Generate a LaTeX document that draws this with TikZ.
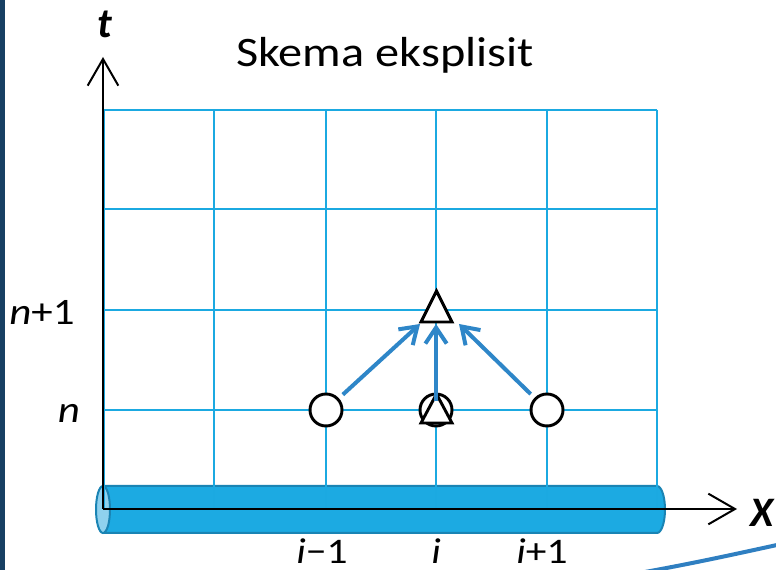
\documentclass[tikz,border=0pt]{standalone}
\usepackage{fontspec}
\setmainfont{Carlito}
\usetikzlibrary{arrows.meta}
\definecolor{gridc}{HTML}{1BA9E1}
\definecolor{arrc}{HTML}{2E86C8}
\definecolor{cylc}{HTML}{1CAAE2}
\definecolor{cyld}{HTML}{1A84B4}
\definecolor{cyll}{HTML}{8FD1EE}
\definecolor{barc}{HTML}{173F63}
\definecolor{swc}{HTML}{2F7FC1}
\newcommand{\wider}[1]{\scalebox{1.15}[1]{#1}}
\tikzset{
  gridline/.style={gridc, line width=1.5pt},
  axisline/.style={black, line width=1.5pt, -{Straight Barb[length=20pt,width=23pt,line width=1.5pt]}},
  flow/.style={arrc, line width=3pt, -{Straight Barb[length=12pt,width=16pt,line width=3pt]}},
  circ/.style={circle, draw=black, fill=white, line width=2.2pt, minimum size=24pt, inner sep=0pt},
  tri/.style={draw=black, fill=white, line width=2.2pt, line join=miter},
  lab/.style={anchor=base, inner sep=0pt, font=\fontsize{28}{32}\selectfont},
  blab/.style={anchor=base, inner sep=0pt, font=\fontsize{27}{31}\selectfont},
  axlab/.style={anchor=base, inner sep=0pt, font=\fontsize{31.5}{36}\selectfont\bfseries\itshape},
}
\begin{document}
\begin{tikzpicture}[x=0.75pt,y=-0.75pt]
\useasboundingbox (0,0) rectangle (776,570);
\fill[white] (0,0) rectangle (776,570);
% left bar
\fill[barc] (0,0) rectangle (5,570);
% cylinder
\filldraw[fill=cylc, draw=cyld, line width=1.5pt]
  (103,486) -- (657,486) arc[start angle=-90, end angle=90, x radius=8, y radius=23.5] -- (103,533) -- cycle;
\filldraw[fill=cyll, draw=cyld, line width=1.5pt] (103,509.5) ellipse[x radius=7, y radius=23.5];
% grid
\foreach \gx in {104,214,326,436,547,657} \draw[gridline] (\gx,110) -- (\gx,509);
\foreach \gy in {110,209,310,410} \draw[gridline] (104,\gy) -- (657,\gy);
% axes
\coordinate (O) at (103,509);
\coordinate (tend) at (103,57);
\coordinate (xend) at (737,509);
\draw[axisline] (O) -- (tend);
\draw[axisline] (O) -- (xend);
\node[axlab] (tlab) at (105,38) {t};
\node[axlab] (xlab) at (762,527) {X};
% title
\node[anchor=base, inner sep=0pt, font=\fontsize{31.5}{36}\selectfont] (title) at (385,67) {\wider{Skema eksplisit}};
% labels
\node[lab] (n1) at (42,325) {\wider{\textit{n}+1}};
\node[lab] (n0) at (69,423) {\wider{\textit{n}}};
\node[blab] (im) at (322,564) {\wider{\textit{i}−1}};
\node[blab] (i0) at (436,564) {\wider{\textit{i}}};
\node[blab] (ip) at (542,564) {\wider{\textit{i}+1}};
% points
\node[circ] (cL) at (326,410) {};
\node[circ] (cM) at (436,410) {};
\node[circ] (cR) at (547,410) {};
\draw[tri] (421,423) -- (452,423) -- (436.5,394) -- cycle;
\coordinate (mstart) at (436,401);
\draw[tri] (421,322) -- (452,322) -- (436.5,291) -- cycle;
\coordinate (tipL) at (420,324);
\coordinate (tipM) at (436,324);
\coordinate (tipR) at (459,324);
% arrows
\draw[flow, shorten <=4pt] (cL) -- (tipL);
\draw[flow] (mstart) -- (tipM);
\draw[flow, shorten <=4pt] (cR) -- (tipR);
% swoosh
\draw[swc, line width=3pt] (645,572) .. controls (700,562) and (740,553) .. (777,545);
\end{tikzpicture}
\end{document}
